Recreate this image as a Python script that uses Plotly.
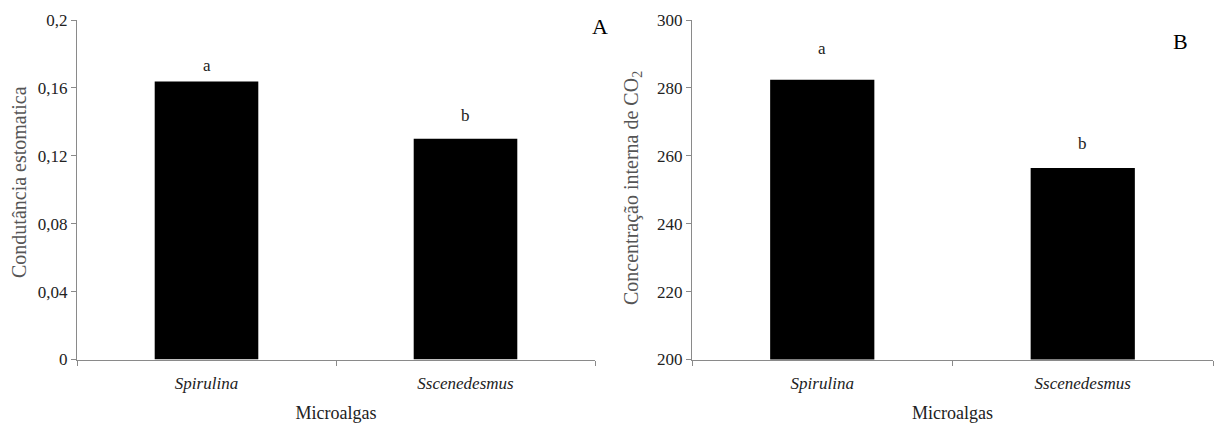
import plotly.graph_objects as go
from plotly.subplots import make_subplots

categories = ["<i>Spirulina</i>", "<i>Sscenedesmus</i>"]
condutancia = [0.1637, 0.130]
concentracao = [282.4, 256.4]
letters_a = ["a", "b"]
letters_b = ["a", "b"]
ticks_a = [0, 0.04, 0.08, 0.12, 0.16, 0.2]
ticklabels_a = ["0", "0,04", "0,08", "0,12", "0,16", "0,2"]
ticks_b = [200, 220, 240, 260, 280, 300]
ticklabels_b = ["200", "220", "240", "260", "280", "300"]
ytitle_a = "Condutância estomatica"
ytitle_b = "Concentração interna de CO<sub>2</sub>"
xtitle = "Microalgas"

SERIF = "Liberation Serif"
AXIS = "#8a8a8a"
TXT = "#222222"
W, H = 1218, 428

fig = make_subplots(rows=1, cols=2)
fig.add_trace(go.Bar(x=categories, y=condutancia, width=0.4,
                     marker=dict(color="black", line=dict(width=0))), 1, 1)
fig.add_trace(go.Bar(x=categories, y=concentracao, width=0.4,
                     marker=dict(color="black", line=dict(width=0))), 1, 2)

xcommon = dict(tickson="boundaries", ticks="outside", ticklen=5, tickcolor=AXIS,
               showline=True, linecolor=AXIS, linewidth=1, showgrid=False, automargin=False,
               range=[-0.5, 1.5], ticklabelstandoff=8,
               tickfont=dict(family=SERIF, size=17, color=TXT),
               title=dict(text=xtitle, font=dict(family=SERIF, size=18, color=TXT), standoff=14))
fig.update_xaxes(domain=[77 / W, 595 / W], **xcommon, row=1, col=1)
fig.update_xaxes(domain=[692 / W, 1213 / W], **xcommon, row=1, col=2)

ycommon = dict(ticks="outside", ticklen=5, tickcolor=AXIS, showline=True, linecolor=AXIS,
               linewidth=1, showgrid=False, zeroline=False, automargin=False,
               domain=[1 - 359.5 / H, 1 - 20 / H],
               tickfont=dict(family=SERIF, size=17, color=TXT))
fig.update_yaxes(range=[0, 0.2], tickvals=ticks_a, ticktext=ticklabels_a, **ycommon, row=1, col=1)
fig.update_yaxes(range=[200, 300], tickvals=ticks_b, ticktext=ticklabels_b, **ycommon, row=1, col=2)

annotations = []
shifts_a = [16, 23]
shifts_b = [31, 25]
for i, (c, v, t) in enumerate(zip(categories, condutancia, letters_a)):
    annotations.append(dict(x=c, y=v, xref="x", yref="y", text=t, showarrow=False,
                            yshift=shifts_a[i], font=dict(family=SERIF, size=17, color=TXT)))
for i, (c, v, t) in enumerate(zip(categories, concentracao, letters_b)):
    annotations.append(dict(x=c, y=v, xref="x2", yref="y2", text=t, showarrow=False,
                            yshift=shifts_b[i], font=dict(family=SERIF, size=17, color=TXT)))
annotations.append(dict(x=19 / W, y=1 - 182 / H, xref="paper", yref="paper", text=ytitle_a,
                        textangle=-90, showarrow=False, xanchor="center", yanchor="middle",
                        font=dict(family=SERIF, size=20, color="#555555")))
annotations.append(dict(x=633 / W, y=1 - 188 / H, xref="paper", yref="paper", text=ytitle_b,
                        textangle=-90, showarrow=False, xanchor="center", yanchor="middle",
                        font=dict(family=SERIF, size=20, color="#555555")))
annotations.append(dict(x=600 / W, y=1 - 27 / H, xref="paper", yref="paper", text="A",
                        showarrow=False, xanchor="center", yanchor="middle",
                        font=dict(family=SERIF, size=22, color="black")))
annotations.append(dict(x=1180 / W, y=1 - 42 / H, xref="paper", yref="paper", text="B",
                        showarrow=False, xanchor="center", yanchor="middle",
                        font=dict(family=SERIF, size=22, color="black")))

fig.update_layout(width=W, height=H, margin=dict(l=0, r=0, t=0, b=0, autoexpand=False),
                  font=dict(family=SERIF, color=TXT),
                  paper_bgcolor="white", plot_bgcolor="white", showlegend=False,
                  annotations=annotations)
fig.write_html("out.html", config={"displayModeBar": False},
               post_script="document.body.style.margin='0';document.body.style.overflow='hidden';")
